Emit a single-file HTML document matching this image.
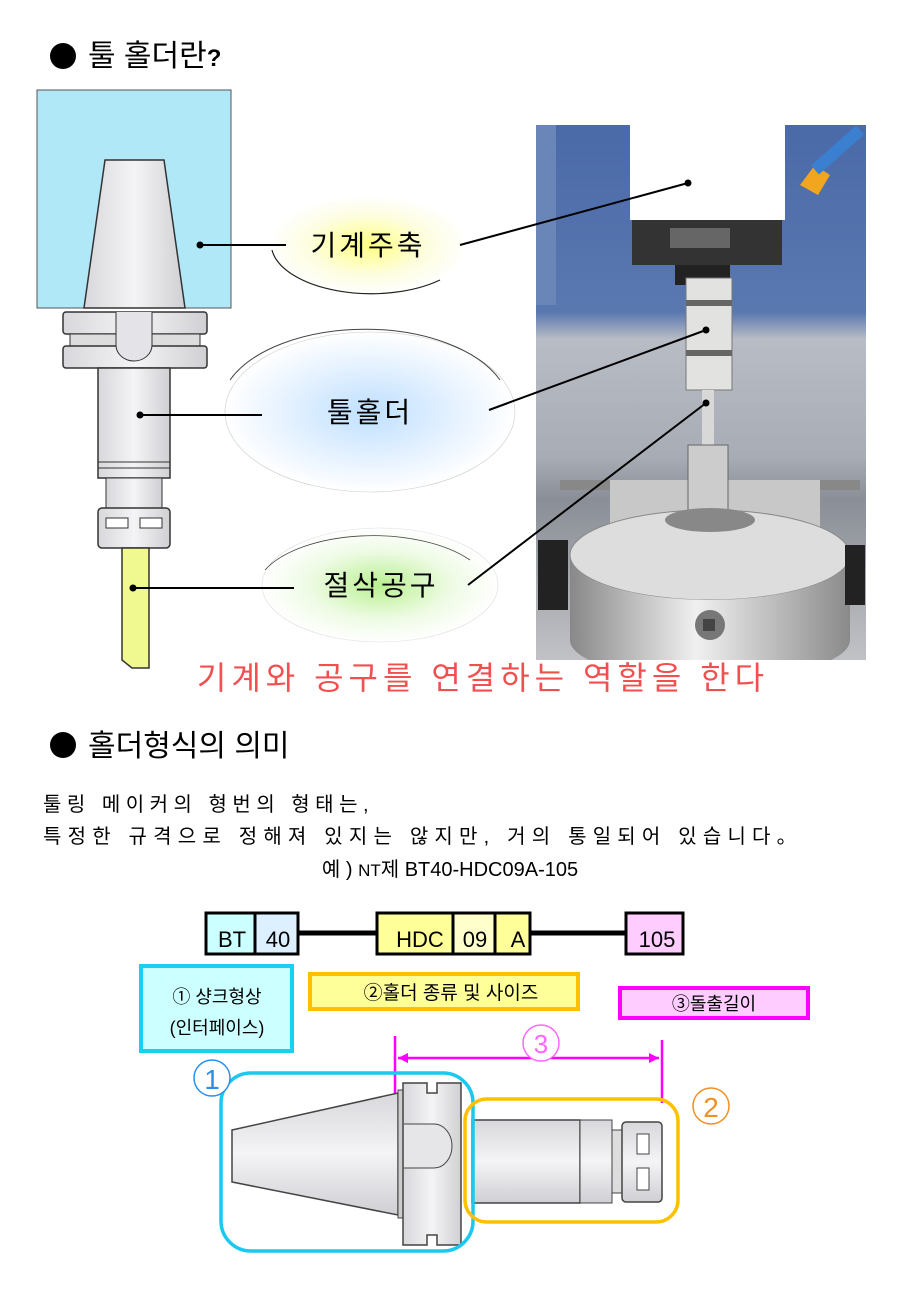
<!DOCTYPE html>
<html><head><meta charset="utf-8"><style>
body{margin:0;width:900px;height:1300px;background:#fff;overflow:hidden;font-family:"Liberation Sans","Noto Sans CJK KR",sans-serif}
svg{position:absolute;left:0;top:0}
</style></head><body>
<svg width="900" height="1300" viewBox="0 0 900 1300" font-family="Liberation Sans, Noto Sans CJK KR, sans-serif">
<defs>
<radialGradient id="gy"><stop offset="0" stop-color="#ffff80"/><stop offset="0.6" stop-color="#fdfde0"/><stop offset="1" stop-color="#fff"/></radialGradient>
<radialGradient id="gb"><stop offset="0" stop-color="#bfe0ff"/><stop offset="0.6" stop-color="#e6f2ff"/><stop offset="1" stop-color="#fff"/></radialGradient>
<radialGradient id="gg"><stop offset="0" stop-color="#b8f090"/><stop offset="0.6" stop-color="#eefbe4"/><stop offset="1" stop-color="#fff"/></radialGradient>
<linearGradient id="metal" x1="0" x2="1"><stop offset="0" stop-color="#d8d8dc"/><stop offset="0.5" stop-color="#f4f4f6"/><stop offset="1" stop-color="#d0d0d4"/></linearGradient>
<linearGradient id="metalv" x1="0" y1="0" x2="0" y2="1"><stop offset="0" stop-color="#d8d8dc"/><stop offset="0.5" stop-color="#f4f4f6"/><stop offset="1" stop-color="#cfcfd4"/></linearGradient>
<linearGradient id="photo" x1="0" y1="0" x2="0" y2="1"><stop offset="0" stop-color="#4a6aa8"/><stop offset="0.35" stop-color="#5a78b0"/><stop offset="0.4" stop-color="#b8bcc4"/><stop offset="0.62" stop-color="#a8acb4"/><stop offset="0.7" stop-color="#8a8e96"/><stop offset="1" stop-color="#c0c2c6"/></linearGradient>
<linearGradient id="chuck" x1="0" x2="1"><stop offset="0" stop-color="#888"/><stop offset="0.45" stop-color="#f0f0f0"/><stop offset="1" stop-color="#8a8a8a"/></linearGradient>
<clipPath id="pc"><rect x="536" y="125" width="330" height="535"/></clipPath>
</defs>

<circle cx="63" cy="56" r="13" fill="#000"/>
<text x="88" y="66" font-size="30" fill="#000">툴 홀더란<tspan font-weight="bold" font-size="24">?</tspan></text>

<rect x="37" y="90" width="194" height="218" fill="#b0e8f8" stroke="#555" stroke-width="1"/>
<polygon points="105,160 164,160 185,308 84,308" fill="url(#metal)" stroke="#333" stroke-width="1.5"/>
<rect x="63" y="312" width="144" height="22" rx="3" fill="url(#metal)" stroke="#333" stroke-width="1.5"/>
<rect x="70" y="334" width="130" height="12" fill="#ddd" stroke="#333"/>
<rect x="63" y="346" width="144" height="22" rx="3" fill="url(#metal)" stroke="#333" stroke-width="1.5"/>
<path d="M116,312 V345 a18,16 0 0 0 36,0 V312" fill="#e4e4e8" stroke="#333"/>
<path d="M98,368 L98,478 L170,478 L170,368 Z" fill="url(#metal)" stroke="#333" stroke-width="1.5"/>
<line x1="98" y1="462" x2="170" y2="462" stroke="#333"/><line x1="98" y1="468" x2="170" y2="468" stroke="#333"/>
<rect x="106" y="478" width="56" height="30" fill="url(#metal)" stroke="#333"/>
<rect x="98" y="508" width="72" height="40" rx="4" fill="url(#metal)" stroke="#333" stroke-width="1.5"/>
<rect x="106" y="518" width="22" height="10" fill="#fff" stroke="#333"/><rect x="140" y="518" width="22" height="10" fill="#fff" stroke="#333"/>
<path d="M122,548 L149,548 L149,668 L132,668 L122,660 Z" fill="#f0f890" stroke="#333" stroke-width="1.5"/>

<ellipse cx="368" cy="245" rx="100" ry="50" fill="url(#gy)"/>
<path d="M272,250 A100,50 0 0 0 440,280" fill="none" stroke="#222" stroke-width="1.2"/>
<ellipse cx="370" cy="412" rx="145" ry="80" fill="url(#gb)" stroke="#ccc" stroke-width="0.6"/>
<path d="M230,380 A145,80 0 0 1 500,380" fill="none" stroke="#444" stroke-width="1"/>
<ellipse cx="380" cy="585" rx="118" ry="57" fill="url(#gg)" stroke="#ddd" stroke-width="0.6"/>
<path d="M265,570 A118,57 0 0 1 470,560" fill="none" stroke="#444" stroke-width="0.8"/>
<text x="368" y="255" font-size="28" text-anchor="middle" letter-spacing="3">기계주축</text>
<text x="370" y="422" font-size="28" text-anchor="middle" letter-spacing="3">툴홀더</text>
<text x="381" y="595" font-size="28" text-anchor="middle" letter-spacing="3">절삭공구</text>

<circle cx="200" cy="245" r="3.5"/><line x1="200" y1="245" x2="286" y2="245" stroke="#000" stroke-width="2"/>
<circle cx="140" cy="415" r="3.5"/><line x1="140" y1="415" x2="262" y2="415" stroke="#000" stroke-width="2"/>
<circle cx="133" cy="588" r="3.5"/><line x1="133" y1="588" x2="294" y2="588" stroke="#000" stroke-width="2"/>

<g clip-path="url(#pc)">
<rect x="536" y="125" width="330" height="535" fill="url(#photo)"/>
<rect x="536" y="125" width="20" height="180" fill="#6a86b8"/>
<rect x="630" y="125" width="155" height="95" fill="#fff"/>
<rect x="632" y="220" width="150" height="45" fill="#333"/>
<rect x="670" y="228" width="60" height="20" fill="#666"/>
<rect x="675" y="265" width="55" height="20" fill="#222"/>
<rect x="686" y="278" width="46" height="112" fill="#e2e2e0" stroke="#777"/>
<rect x="686" y="300" width="46" height="6" fill="#666"/>
<rect x="686" y="350" width="46" height="6" fill="#666"/>
<rect x="702" y="390" width="12" height="55" fill="#d8d8d8"/>
<polygon points="800,185 815,165 830,175 818,195" fill="#f2a51e"/>
<path d="M815,170 L860,130" stroke="#3a7fd0" stroke-width="12"/>
<rect x="560" y="480" width="300" height="10" fill="#888"/>
<rect x="610" y="480" width="210" height="50" fill="#c8c8c8"/>
<rect x="688" y="445" width="40" height="80" fill="#ccc" stroke="#666"/>
<ellipse cx="710" cy="555" rx="140" ry="45" fill="#ddd" stroke="#888"/>
<path d="M570,555 L570,640 A140,40 0 0 0 850,640 L850,555 A140,45 0 0 1 570,555 Z" fill="url(#chuck)"/>
<ellipse cx="710" cy="520" rx="45" ry="12" fill="#888"/>
<circle cx="710" cy="625" r="15" fill="#777"/><rect x="703" y="619" width="12" height="12" fill="#444"/>
<rect x="538" y="540" width="30" height="70" fill="#222"/><rect x="845" y="545" width="20" height="60" fill="#222"/>
</g>

<circle cx="688" cy="183" r="3.5"/><line x1="688" y1="183" x2="460" y2="245" stroke="#000" stroke-width="2"/>
<circle cx="706" cy="330" r="3.5"/><line x1="706" y1="330" x2="489" y2="410" stroke="#000" stroke-width="2"/>
<circle cx="706" cy="403" r="3.5"/><line x1="706" y1="403" x2="468" y2="585" stroke="#000" stroke-width="2"/>

<text x="483" y="689" font-size="32" fill="#f05050" text-anchor="middle" letter-spacing="5">기계와 공구를 연결하는 역할을 한다</text>

<circle cx="63" cy="745" r="13" fill="#000"/>
<text x="88" y="756" font-size="30">홀더형식의 의미</text>
<text x="43" y="811" font-size="20" letter-spacing="5.5">툴링 메이커의 형번의 형태는,</text>
<text x="43" y="843" font-size="20" letter-spacing="6.2">특정한 규격으로 정해져 있지는 않지만, 거의 통일되어 있습니다。</text>
<text x="450" y="876" font-size="20" text-anchor="middle">예 ) <tspan font-size="17">NT</tspan>제 BT40-HDC09A-105</text>

<line x1="298" y1="933" x2="377" y2="933" stroke="#000" stroke-width="5"/>
<line x1="530" y1="933" x2="625" y2="933" stroke="#000" stroke-width="5"/>
<rect x="206" y="913" width="49" height="41" fill="#ccffff" stroke="#000" stroke-width="3"/>
<rect x="255" y="913" width="43" height="41" fill="#ddf0ff" stroke="#000" stroke-width="3"/>
<rect x="377" y="913" width="76" height="41" fill="#ffff99" stroke="#000" stroke-width="3"/>
<rect x="453" y="913" width="42" height="41" fill="#ffffcc" stroke="#000" stroke-width="3"/>
<rect x="495" y="913" width="35" height="41" fill="#ffff99" stroke="#000" stroke-width="3"/>
<rect x="626" y="913" width="57" height="41" fill="#ffccff" stroke="#000" stroke-width="3"/>
<g font-size="22" text-anchor="middle">
<text x="232" y="947">BT</text><text x="278" y="947">40</text><text x="420" y="947">HDC</text><text x="475" y="947">09</text><text x="518" y="947">A</text><text x="657" y="947">105</text>
</g>

<rect x="141" y="966" width="151" height="85" fill="#ccffff" stroke="#1ad0f0" stroke-width="4"/>
<text x="217" y="1003" font-size="18" text-anchor="middle">① 샹크형상</text>
<text x="217" y="1034" font-size="18" text-anchor="middle">(인터페이스)</text>
<rect x="310" y="974" width="268" height="35" fill="#ffff99" stroke="#ffc000" stroke-width="4"/>
<text x="451" y="999" font-size="19" text-anchor="middle">②홀더 종류 및 사이즈</text>
<rect x="620" y="988" width="188" height="30" fill="#ffccff" stroke="#ff00ff" stroke-width="4"/>
<text x="714" y="1010" font-size="18" text-anchor="middle">③돌출길이</text>

<line x1="395" y1="1036" x2="395" y2="1103" stroke="#ff00ff" stroke-width="2.5"/>
<line x1="662" y1="1040" x2="662" y2="1103" stroke="#ff00ff" stroke-width="2.5"/>
<line x1="398" y1="1058" x2="659" y2="1058" stroke="#ff00ff" stroke-width="2.5"/>
<polygon points="398,1058 408,1053 408,1063" fill="#ff00ff"/><polygon points="659,1058 649,1053 649,1063" fill="#ff00ff"/>
<circle cx="541" cy="1043" r="18" fill="#fff" stroke="#ff66ff" stroke-width="1.5"/>
<text x="541" y="1053" font-size="26" fill="#ff66ff" text-anchor="middle">3</text>

<polygon points="232,1130 398,1093 398,1215 232,1182" fill="url(#metalv)" stroke="#444" stroke-width="1.5"/>
<rect x="398" y="1090" width="8" height="128" fill="#ccc" stroke="#444"/>
<path d="M403,1083 h24 v10 h10 v-10 h24 v162 h-24 v-10 h-10 v10 h-24 Z" fill="url(#metal)" stroke="#444" stroke-width="1.5"/>
<path d="M404,1124 h30 a18,22 0 0 1 0,44 h-30" fill="#e6e6e8" stroke="#444"/>
<rect x="472" y="1120" width="108" height="83" fill="url(#metalv)" stroke="#444" stroke-width="1.5"/>
<rect x="580" y="1120" width="32" height="83" fill="url(#metalv)" stroke="#444"/>
<rect x="612" y="1130" width="10" height="63" fill="#ddd" stroke="#444"/>
<rect x="622" y="1122" width="40" height="80" rx="4" fill="url(#metalv)" stroke="#444" stroke-width="1.5"/>
<rect x="637" y="1134" width="12" height="20" fill="#fff" stroke="#444"/><rect x="637" y="1168" width="12" height="22" fill="#fff" stroke="#444"/>

<rect x="221" y="1073" width="252" height="178" rx="30" fill="none" stroke="#1ac8f0" stroke-width="3.5"/>
<rect x="465" y="1099" width="213" height="123" rx="22" fill="none" stroke="#ffc000" stroke-width="3.5"/>
<circle cx="212" cy="1078" r="18" fill="#fff" stroke="#2a90e8" stroke-width="1.5"/>
<text x="212" y="1089" font-size="28" fill="#2a90e8" text-anchor="middle">1</text>
<circle cx="711" cy="1106" r="18" fill="#fff" stroke="#f09020" stroke-width="1.5"/>
<text x="711" y="1117" font-size="28" fill="#f09020" text-anchor="middle">2</text>
</svg>
</body></html>
